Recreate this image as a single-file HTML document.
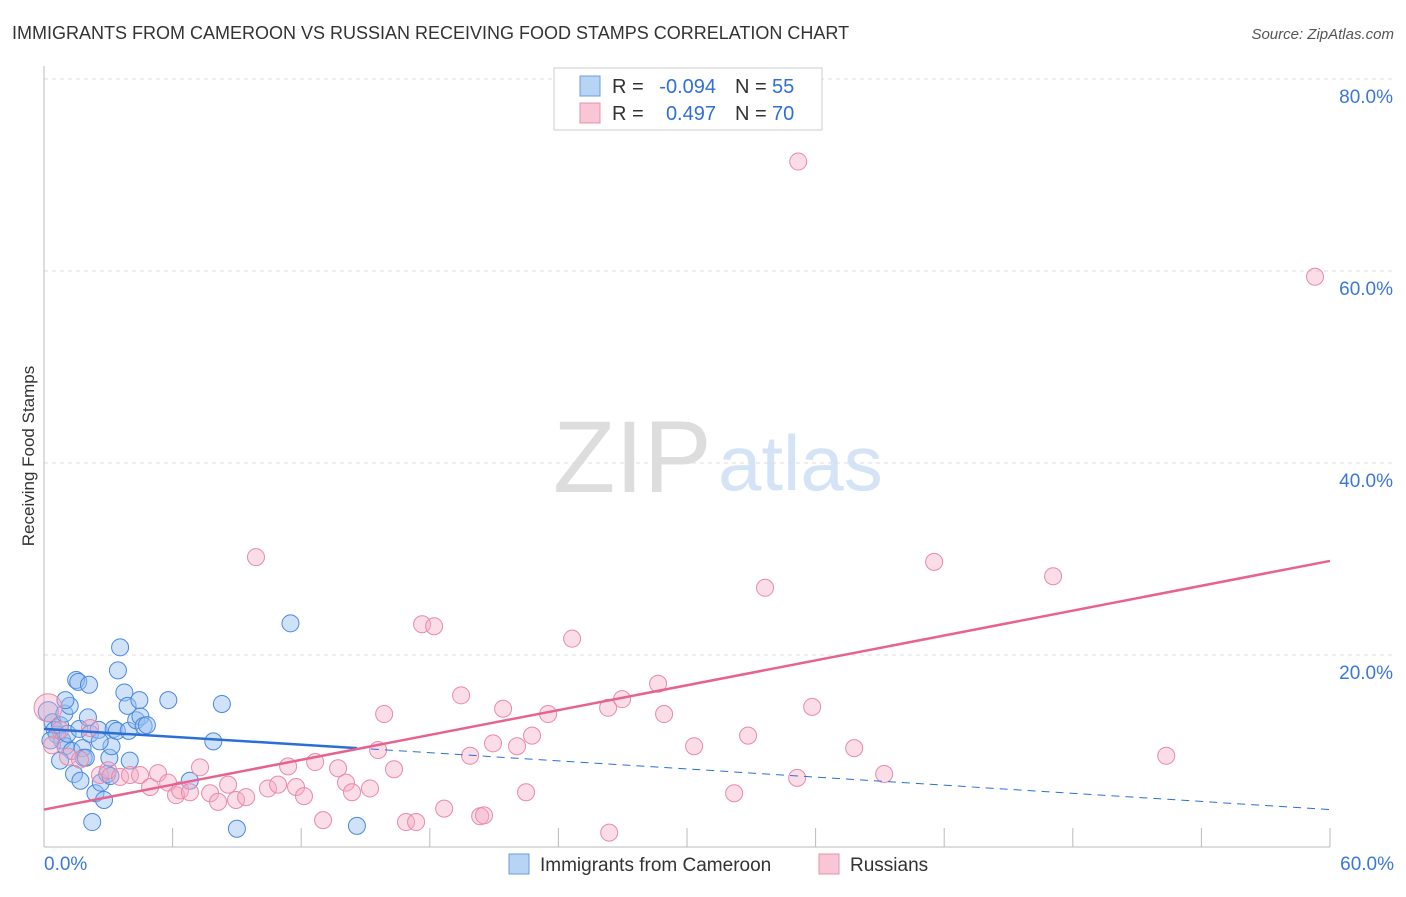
<!DOCTYPE html>
<html><head><meta charset="utf-8"><style>
body{margin:0;background:#fff;font-family:"Liberation Sans",sans-serif;}
svg text{font-family:"Liberation Sans",sans-serif;}
</style></head><body>
<svg id="c" width="1406" height="892">
<text x="12" y="39" font-size="18" fill="#333">IMMIGRANTS FROM CAMEROON VS RUSSIAN RECEIVING FOOD STAMPS CORRELATION CHART</text>
<text x="1394" y="39" font-size="15" fill="#555" font-style="italic" text-anchor="end">Source: ZipAtlas.com</text>
<text x="34" y="456" font-size="17" fill="#333" text-anchor="middle" transform="rotate(-90 34 456)">Receiving Food Stamps</text>
<text x="553" y="492" font-size="102" fill="#ddd" font-family="Liberation Serif">ZIP</text>
<text x="718" y="490" font-size="78" fill="#d4e3f5">atlas</text>
<g id="grid"></g><g id="pts"></g><g id="lines"></g>
<g>
<rect x="554" y="68" width="268" height="62" fill="#fff" stroke="#ccc"/>
<rect x="580" y="76" width="20" height="20" fill="#b8d4f5" stroke="#6a9be0"/>
<rect x="580" y="103" width="20" height="20" fill="#f9c6d6" stroke="#e890ad"/>
<text x="612" y="93" font-size="20" fill="#333">R =</text>
<text x="716" y="93" font-size="20" fill="#2f6fd6" text-anchor="end">-0.094</text>
<text x="735" y="93" font-size="20" fill="#333">N =</text>
<text x="772" y="93" font-size="20" fill="#2f6fd6">55</text>
<text x="612" y="120" font-size="20" fill="#333">R =</text>
<text x="716" y="120" font-size="20" fill="#2f6fd6" text-anchor="end">0.497</text>
<text x="735" y="120" font-size="20" fill="#333">N =</text>
<text x="772" y="120" font-size="20" fill="#2f6fd6">70</text>
</g>
<g>
<rect x="509" y="854" width="20" height="20" fill="#b8d4f5" stroke="#6a9be0"/>
<text x="540" y="871" font-size="19" fill="#333">Immigrants from Cameroon</text>
<rect x="819" y="854" width="20" height="20" fill="#f9c6d6" stroke="#e890ad"/>
<text x="850" y="871" font-size="19" fill="#333">Russians</text>
</g>
</svg>
<script>
const yTicks=[0,20,40,60,80];
const xTickLabels=["0.0%","60.0%"];
const blueX=[0.2,0.4,0.5,0.6,0.75,0.85,0.95,1.0,1.1,1.2,1.3,1.4,1.5,1.6,1.65,1.7,1.8,1.85,1.95,2.05,2.1,2.15,2.25,2.4,2.55,2.65,2.8,2.95,3.05,3.15,3.25,3.4,3.45,3.55,3.75,3.9,3.95,4.3,4.45,4.5,4.65,4.8,5.8,7.9,8.3,6.8,9.0,11.5,14.6,3.1,0.75,0.3,1.0,2.6,4.0];
const blueY=[14.1,13.0,12.2,11.7,12.7,11.1,13.9,10.5,11.8,14.7,10.0,7.6,17.4,17.2,12.3,6.9,10.3,9.3,9.3,13.5,16.9,11.8,2.6,5.6,12.2,6.7,4.9,7.6,9.3,10.5,12.3,12.1,18.4,20.8,16.1,14.7,12.1,13.2,15.3,13.6,12.6,12.7,15.3,11.0,14.9,6.9,1.9,23.3,2.2,7.4,9.0,11.1,15.3,11.0,9.0];
const pinkX=[0.19,0.37,0.75,1.12,1.68,2.15,2.61,2.99,3.55,4.01,4.48,4.95,5.32,5.79,6.16,6.35,6.81,7.28,7.75,8.12,8.59,8.96,9.43,9.89,10.45,10.92,11.39,11.76,12.13,12.65,13.02,13.72,14.09,14.37,15.21,15.59,15.87,16.33,16.89,17.36,17.64,18.2,18.67,19.46,19.88,20.35,20.53,20.95,21.42,22.07,22.49,22.77,23.52,24.64,26.37,26.32,26.97,28.65,28.93,30.33,32.2,32.85,33.64,35.14,35.19,35.84,37.8,39.2,41.53,47.08,52.36,59.3];
const pinkY=[14.5,10.6,12.2,9.4,9.1,12.4,7.5,8.0,7.3,7.5,7.5,6.25,7.7,6.7,5.4,5.9,5.7,8.3,5.6,4.7,6.5,4.9,5.2,30.2,6.1,6.5,8.4,6.25,5.3,8.85,2.8,8.2,6.7,5.7,6.1,10.1,13.85,8.1,2.6,2.6,23.2,23.0,4.0,15.8,9.5,3.2,3.3,10.8,14.4,10.5,5.7,11.6,13.85,21.7,1.5,14.5,15.4,17.0,13.85,10.5,5.6,11.6,27.0,7.2,71.4,14.6,10.3,7.6,29.7,28.2,9.5,59.4];
const bluePts=blueX.map((x,i)=>[x,blueY[i]]);
const pinkPts=pinkX.map((x,i)=>[x,pinkY[i]]);
const blueTrend=[[0,12.3],[14.6,10.3],[60,3.9]];
const pinkTrend=[[0,3.9],[60,29.8]];
const X=v=>44+v*(1286/60), Y=v=>847-v*9.6;
const NS="http://www.w3.org/2000/svg";
function mk(tag,attrs,parent){const e=document.createElementNS(NS,tag);for(const k in attrs)e.setAttribute(k,attrs[k]);document.getElementById(parent).appendChild(e);return e;}
yTicks.forEach(t=>{
 if(t>0){const l=mk('line',{x1:44,x2:1394,y1:Y(t),y2:Y(t),stroke:'#ddd','stroke-dasharray':'4,4'},'grid');
 
 
 const tx=mk('text',{x:1393,y:Y(t)+24,'font-size':19,fill:'#3a78d8','text-anchor':'end'},'grid');tx.textContent=t.toFixed(1)+'%';
 
 }
});
const ax=mk('line',{x1:44,x2:44,y1:66,y2:847,stroke:'#bbb'},'grid');


const bx=mk('line',{x1:44,x2:1330,y1:847,y2:847,stroke:'#bbb'},'grid');


for(let i=1;i<=10;i++){const t=mk('line',{x1:X(i*6),x2:X(i*6),y1:828,y2:847,stroke:'#bbb'},'grid');
 
 }
[[0,'start'],[60,'end']].forEach((p,i)=>{const t=mk('text',{x:p[0]==0?44:1394,y:870,'font-size':19,fill:'#3a78d8','text-anchor':p[1]},'grid');t.textContent=xTickLabels[i];
 
 });
bluePts.forEach((p,i)=>{const c=mk('circle',{cx:X(p[0]),cy:Y(p[1]),r:i==0?10:8.5,fill:'rgba(150,190,240,0.45)',stroke:'#4a88e0','stroke-width':1},'pts');
 
 });
pinkPts.forEach((p,i)=>{const c=mk('circle',{cx:X(p[0]),cy:Y(p[1]),r:i==0?14:8.5,fill:'rgba(245,170,195,0.4)',stroke:'#e88aaa','stroke-width':1},'pts');
 
 });
const bl=mk('line',{x1:X(blueTrend[0][0]),y1:Y(blueTrend[0][1]),x2:X(blueTrend[1][0]),y2:Y(blueTrend[1][1]),stroke:'#2a6fd6','stroke-width':2.5},'lines');


const bd=mk('line',{x1:X(blueTrend[1][0]),y1:Y(blueTrend[1][1]),x2:X(blueTrend[2][0]),y2:Y(blueTrend[2][1]),stroke:'#2a6fd6','stroke-width':1,'stroke-dasharray':'8,6'},'lines');


const pl=mk('line',{x1:X(pinkTrend[0][0]),y1:Y(pinkTrend[0][1]),x2:X(pinkTrend[1][0]),y2:Y(pinkTrend[1][1]),stroke:'#e8628f','stroke-width':2.5},'lines');


</script>
</body></html>
